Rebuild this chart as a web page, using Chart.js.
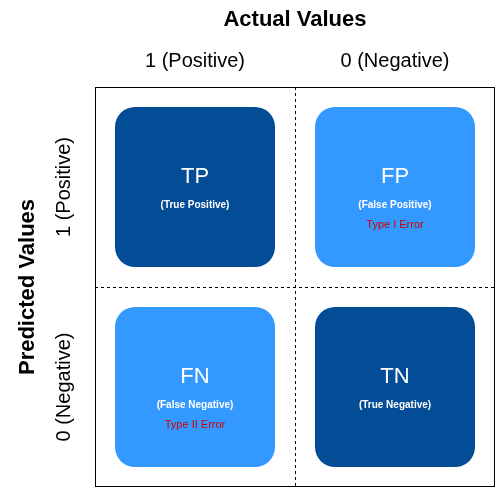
<!DOCTYPE html>
<html><head><meta charset="utf-8">
<script src="https://cdn.jsdelivr.net/npm/chart.js@4"></script>
<style>html,body{margin:0;background:#fff}#wrap{width:497px;height:489px}</style>
</head><body><div id="wrap"><canvas id="cm"></canvas></div>
<script>
const actualLabels = ["1 (Positive)", "0 (Negative)"];
const predictedLabels = ["1 (Positive)", "0 (Negative)"];
const topRow = [[1.1, 1.9], [1.1, 1.9]];
const bottomRow = [[0.1, 0.9], [0.1, 0.9]];
const cellCodes = [["TP", "FP"], ["FN", "TN"]];
const cellNames = [["(True Positive)", "(False Positive)"], ["(False Negative)", "(True Negative)"]];
const cellErrors = [["", "Type I Error"], ["Type II Error", ""]];
const dark = "#034C96", light = "#3399FF";

const matrixText = {
    id: "matrixText",
    beforeDatasetsDraw(chart) {
        const c = chart.ctx, a = chart.chartArea;
        const x = chart.scales.x, y = chart.scales.y;
        c.save();
        c.strokeStyle = "#000"; c.lineWidth = 1;
        c.strokeRect(a.left + 0.5, a.top + 0.5, a.width - 1, a.height - 1);
        c.setLineDash([3, 3]);
        const mx = Math.round((a.left + a.right) / 2) + 0.5, my = Math.round(y.getPixelForValue(1)) + 0.5;
        c.beginPath(); c.moveTo(mx, a.top); c.lineTo(mx, a.bottom);
        c.moveTo(a.left, my); c.lineTo(a.right, my); c.stroke();
        c.restore();
    },
    afterDatasetsDraw(chart) {
        const c = chart.ctx, a = chart.chartArea;
        const x = chart.scales.x, y = chart.scales.y;
        c.save();
        c.textAlign = "center"; c.textBaseline = "middle"; c.fillStyle = "#000";
        c.font = "bold 22px 'Liberation Sans', Arial";
        c.fillText("Actual Values", (a.left + a.right) / 2, 20);
        c.font = "20px 'Liberation Sans', Arial";
        actualLabels.forEach((l, i) => c.fillText(l, x.getPixelForValue(i), 61));
        c.save(); c.translate(28, (a.top + a.bottom) / 2); c.rotate(-Math.PI / 2);
        c.font = "bold 22px 'Liberation Sans', Arial"; c.fillText("Predicted Values", 0, 0); c.restore();
        predictedLabels.forEach((l, i) => {
            c.save(); c.translate(64, y.getPixelForValue(1.5 - i)); c.rotate(-Math.PI / 2);
            c.font = "20px 'Liberation Sans', Arial"; c.fillText(l, 0, 0); c.restore();
        });
        for (let r = 0; r < 2; r++) for (let k = 0; k < 2; k++) {
            const cx = x.getPixelForValue(k), cy = y.getPixelForValue(1.5 - r);
            c.fillStyle = "#fff";
            c.font = "22px 'Liberation Sans', Arial"; c.fillText(cellCodes[r][k], cx, cy - 10);
            c.font = "bold 10px 'Liberation Sans', Arial"; c.fillText(cellNames[r][k], cx, cy + 18);
            if (cellErrors[r][k]) {
                c.fillStyle = "#D00000"; c.font = "11px 'Liberation Sans', Arial";
                c.fillText(cellErrors[r][k], cx, cy + 38);
            }
        }
        c.restore();
    }
};

new Chart(document.getElementById("cm"), {
    type: "bar",
    data: {
        labels: actualLabels,
        datasets: [
            { label: "Predicted 1", data: topRow, backgroundColor: [dark, light] },
            { label: "Predicted 0", data: bottomRow, backgroundColor: [light, dark] }
        ]
    },
    options: {
        responsive: true, maintainAspectRatio: false, animation: false,
        layout: { padding: { left: 95, top: 87, right: 2, bottom: 2 } },
        datasets: { bar: { grouped: false, categoryPercentage: 0.8, barPercentage: 1, borderRadius: 20, borderSkipped: false } },
        scales: {
            x: { display: false, offset: true },
            y: { display: false, min: 0, max: 2 }
        },
        plugins: { legend: { display: false }, tooltip: { enabled: false } }
    },
    plugins: [matrixText]
});
</script></body></html>
